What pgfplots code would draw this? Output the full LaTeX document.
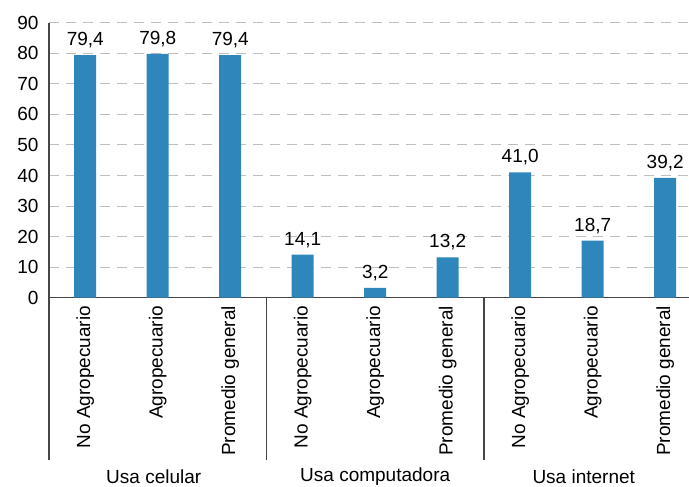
\documentclass[border=0pt]{standalone}
\usepackage{pgfplots}
\pgfplotsset{compat=1.18}
\usepackage{fontspec}
\setmainfont{Liberation Sans}
\definecolor{barblue}{RGB}{46,134,186}
\definecolor{axisgray}{RGB}{70,70,70}
\definecolor{gridgray}{RGB}{190,190,190}
\begin{document}
\begin{tikzpicture}
\begin{axis}[
  scale only axis,
  width=640pt, height=275pt,
  xmin=-0.5, xmax=8.328,
  ymin=0, ymax=90,
  ytick={0,10,...,90},
  xtick={0,...,8},
  xticklabels={No Agropecuario,Agropecuario,Promedio general,No Agropecuario,Agropecuario,Promedio general,No Agropecuario,Agropecuario,Promedio general},
  x tick label style={rotate=90, anchor=east, font=\fontsize{19}{22}\selectfont, inner sep=0pt, xshift=-8pt},
  y tick label style={font=\fontsize{19}{22}\selectfont, xshift=-7pt},
  /pgf/number format/assume math mode=true,
  major tick length=0pt,
  axis x line=bottom, axis y line=left,
  axis line style={-, axisgray, line width=1.2pt},
  ymajorgrids,
  grid style={gridgray, line width=1pt, dash pattern=on 10pt off 7pt},
  ybar, bar width=22pt,
  clip=false,
  nodes near coords,
  nodes near coords style={font=\fontsize{19}{22}\selectfont, yshift=3.5pt, /pgf/number format/.cd, use comma, fixed, fixed zerofill, precision=1, assume math mode=true},
]
\addplot[fill=barblue, draw=none] coordinates {
(0,79.4) (1,79.8) (2,79.4) (3,14.1) (4,3.2) (5,13.2) (6,41.0) (7,18.7) (8,39.2)};
\draw[axisgray, line width=1.2pt] (axis cs:-0.5,0) -- ([yshift=-162pt]axis cs:-0.5,0);
\draw[axisgray, line width=1.2pt] (axis cs:2.5,0) -- ([yshift=-162pt]axis cs:2.5,0);
\draw[axisgray, line width=1.2pt] (axis cs:5.5,0) -- ([yshift=-162pt]axis cs:5.5,0);
\node[font=\fontsize{19}{22}\selectfont] at ([yshift=-179pt,xshift=-4pt]axis cs:1,0) {Usa celular};
\node[font=\fontsize{19}{22}\selectfont] at ([yshift=-179pt]axis cs:4,0) {Usa computadora};
\node[font=\fontsize{19}{22}\selectfont] at ([yshift=-179pt,xshift=-9pt]axis cs:7,0) {Usa internet};
\end{axis}
\pgfresetboundingbox
\useasboundingbox (-49pt,-189.3pt) rectangle (640pt,297.7pt);
\end{tikzpicture}
\end{document}
